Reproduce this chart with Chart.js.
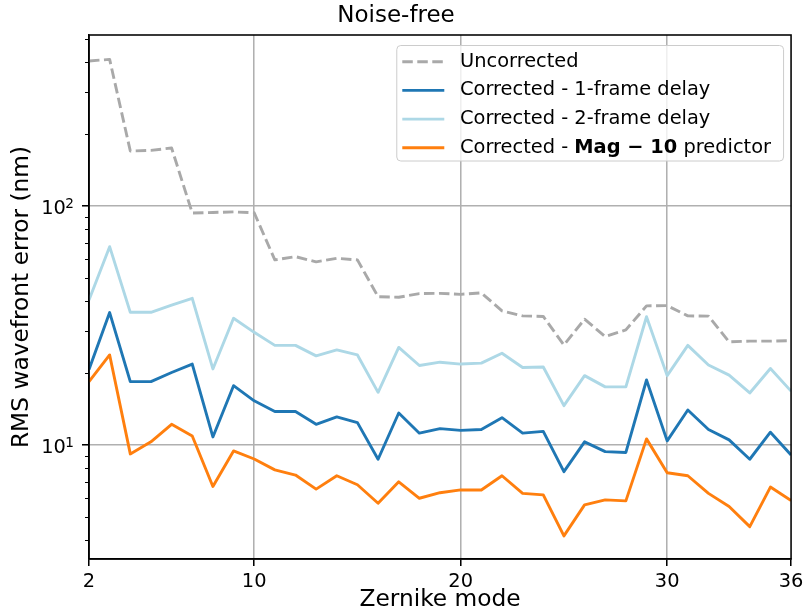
<!DOCTYPE html>
<html>
<head>
<meta charset="utf-8">
<title>Noise-free</title>
<script src="https://cdn.jsdelivr.net/npm/chart.js@4/dist/chart.umd.min.js"></script>
<style>
  html, body { margin: 0; padding: 0; background: #fff; }
  #wrap { width: 808px; height: 612px; }
</style>
</head>
<body>
<div id="wrap"><canvas id="rms-chart" width="808" height="612"></canvas></div>
<script>
// Zernike modes on the x axis
const modes = [2, 3, 4, 5, 6, 7, 8, 9, 10, 11, 12, 13, 14, 15, 16, 17, 18, 19,
  20, 21, 22, 23, 24, 25, 26, 27, 28, 29, 30, 31, 32, 33, 34, 35, 36];

// RMS wavefront error per mode (nm)
const uncorrected = [405, 411, 170, 171, 175, 93.5, 94, 94.5, 93.7, 59.5, 61.4, 58.4,
  60.4, 59.5, 41.7, 41.5, 43.0, 43.1, 42.7, 43.3, 36.4, 34.7, 34.5, 26.2, 33.6, 28.4,
  30.3, 38.2, 38.3, 34.7, 34.6, 27.0, 27.2, 27.2, 27.3];
const oneFrameDelay = [20.7, 35.8, 18.4, 18.4, 20.1, 21.8, 10.8, 17.7, 15.3, 13.8, 13.8,
  12.2, 13.1, 12.4, 8.71, 13.6, 11.2, 11.7, 11.5, 11.6, 13.0, 11.2, 11.4, 7.73, 10.3,
  9.37, 9.3, 18.7, 10.4, 14.0, 11.6, 10.5, 8.71, 11.3, 9.08];
const twoFrameDelay = [40.4, 67.6, 35.9, 35.9, 38.5, 41.1, 20.8, 33.9, 29.6, 26.1, 26.1,
  23.6, 25.0, 23.8, 16.6, 25.6, 21.5, 22.2, 21.8, 22.0, 24.2, 21.1, 21.2, 14.6, 19.5,
  17.5, 17.5, 34.4, 19.5, 26.1, 21.6, 19.6, 16.5, 20.9, 16.8];
const mag10Predictor = [18.4, 23.8, 9.17, 10.3, 12.2, 10.9, 6.70, 9.44, 8.73, 7.86, 7.48,
  6.53, 7.43, 6.81, 5.7, 7.01, 5.98, 6.31, 6.48, 6.48, 7.43, 6.27, 6.18, 4.16, 5.61,
  5.89, 5.83, 10.6, 7.65, 7.43, 6.27, 5.52, 4.55, 6.66, 5.85];

// axis ticks
const xTicks = [2, 10, 20, 30, 36];
const yMajorTicks = [10, 100];
const yMinorTicks = [4, 5, 6, 7, 8, 9, 20, 30, 40, 50, 60, 70, 80, 90, 200, 300, 400, 500];

// legend labels, **...** is drawn bold
const seriesNames = [
  'Uncorrected',
  'Corrected - 1-frame delay',
  'Corrected - 2-frame delay',
  'Corrected - **Mag \u2212 10** predictor'
];

const FONT = "'DejaVu Sans', 'Liberation Sans', sans-serif";

Chart.defaults.font.family = FONT;
Chart.defaults.color = '#000';

function series(values) {
  return modes.map((m, i) => ({ x: m, y: values[i] }));
}

// minor ticks, 10^n labels and the top/right frame
const framePlugin = {
  id: 'frame',
  afterDatasetsDraw(chart) {
    const { ctx, chartArea: a } = chart;
    const y = chart.scales.y;
    ctx.save();
    ctx.strokeStyle = '#000';
    ctx.lineWidth = 1.2;
    ctx.beginPath();
    yMinorTicks.forEach(v => {
      const py = Math.round(y.getPixelForValue(v)) + 0.5;
      ctx.moveTo(a.left - 4, py);
      ctx.lineTo(a.left, py);
    });
    ctx.stroke();
    ctx.lineWidth = 1.55;
    ctx.strokeRect(a.left, a.top, a.right - a.left, a.bottom - a.top);

    // power-of-ten labels with a raised exponent
    ctx.fillStyle = '#000';
    ctx.textBaseline = 'alphabetic';
    ctx.textAlign = 'right';
    yMajorTicks.forEach(v => {
      const py = y.getPixelForValue(v);
      const exp = String(Math.round(Math.log10(v)));
      const right = a.left - 15;
      ctx.font = '13.6px ' + FONT;
      ctx.fillText(exp, right, py + 2.2);
      const ew = ctx.measureText(exp).width;
      ctx.font = '19.4px ' + FONT;
      ctx.fillText('10', right - ew + 0.5, py + 8.3);
    });
    ctx.restore();
  }
};

// legend drawn inside the axes, upper right
const legendPlugin = {
  id: 'innerLegend',
  afterDraw(chart) {
    const { ctx, chartArea: a } = chart;
    const size = 19.4;
    const rowH = 28.7;
    const pieces = chart.data.datasets.map(ds =>
      ds.label.split('**').map((t, i) => ({ t, bold: i % 2 === 1 })));
    ctx.save();
    const fontFor = bold => (bold ? 'bold ' : '') + size + 'px ' + FONT;
    const widths = pieces.map(parts => parts.reduce((w, p) => {
      ctx.font = fontFor(p.bold);
      return w + ctx.measureText(p.t).width;
    }, 0));
    const textW = Math.max(...widths);
    const right = a.right - 8;
    const top = a.top + 10;
    const boxW = 6 + 42 + 15.7 + textW + 12;
    const boxH = 16.7 * 2 + rowH * (pieces.length - 1) - 4;
    const left = right - boxW;

    ctx.beginPath();
    ctx.roundRect(left + 0.5, top + 0.5, boxW, boxH, 4);
    ctx.fillStyle = 'rgba(255,255,255,0.8)';
    ctx.fill();
    ctx.strokeStyle = '#cccccc';
    ctx.lineWidth = 1;
    ctx.stroke();

    chart.data.datasets.forEach((ds, i) => {
      const cy = top + 16.7 + i * rowH;
      ctx.beginPath();
      ctx.setLineDash(ds.borderDash || []);
      ctx.strokeStyle = ds.borderColor;
      ctx.lineWidth = ds.borderWidth;
      ctx.moveTo(left + 6, cy);
      ctx.lineTo(left + 48, cy);
      ctx.stroke();
      ctx.setLineDash([]);
      let x = left + 63.7;
      ctx.fillStyle = '#000';
      ctx.textBaseline = 'middle';
      ctx.textAlign = 'left';
      pieces[i].forEach(p => {
        ctx.font = fontFor(p.bold);
        ctx.fillText(p.t, x, cy);
        x += ctx.measureText(p.t).width;
      });
    });
    ctx.restore();
  }
};

const ctx = document.getElementById('rms-chart').getContext('2d');
new Chart(ctx, {
  type: 'line',
  data: {
    datasets: [{
      label: seriesNames[0],
      data: series(uncorrected),
      borderColor: '#a9a9a9',
      borderWidth: 2.9,
      borderDash: [10.5, 4.5]
    }, {
      label: seriesNames[1],
      data: series(oneFrameDelay),
      borderColor: '#1f77b4',
      borderWidth: 2.9
    }, {
      label: seriesNames[2],
      data: series(twoFrameDelay),
      borderColor: '#add8e6',
      borderWidth: 2.9
    }, {
      label: seriesNames[3],
      data: series(mag10Predictor),
      borderColor: '#ff7f0e',
      borderWidth: 2.9
    }]
  },
  options: {
    responsive: false,
    animation: false,
    devicePixelRatio: 1,
    elements: {
      point: { radius: 0, hoverRadius: 0 },
      line: { tension: 0, borderJoinStyle: 'round' }
    },
    layout: { padding: { top: 0, left: 0, right: 16, bottom: 0 } },
    scales: {
      x: {
        type: 'linear',
        min: 2,
        max: 36,
        afterBuildTicks: scale => { scale.ticks = xTicks.map(v => ({ value: v })); },
        afterFit: scale => { scale.height = 53; },
        grid: {
          color: c => (c.tick && (c.tick.value === 2 || c.tick.value === 36)) ? 'rgba(0,0,0,0)' : '#b0b0b0',
          lineWidth: 1.55,
          tickColor: '#000',
          tickLength: 7,
          tickWidth: 1.55
        },
        border: { color: '#000', width: 1.55 },
        ticks: {
          font: { size: 19.4 },
          padding: 4.6,
          maxRotation: 0,
          autoSkip: false
        },
        title: {
          display: true,
          text: 'Zernike mode',
          font: { size: 23.3, lineHeight: 1 },
          padding: { top: 0, bottom: 0 }
        }
      },
      y: {
        type: 'logarithmic',
        min: 3.33,
        max: 520,
        afterBuildTicks: scale => { scale.ticks = yMajorTicks.map(v => ({ value: v, major: true })); },
        afterFit: scale => { scale.width = 89; },
        grid: {
          color: '#b0b0b0',
          lineWidth: 1.55,
          tickColor: '#000',
          tickLength: 7,
          tickWidth: 1.55
        },
        border: { color: '#000', width: 1.55 },
        ticks: { display: false },
        title: {
          display: true,
          text: 'RMS wavefront error (nm)',
          font: { size: 23.3, lineHeight: 1 },
          padding: { top: 10.5, bottom: 0 }
        }
      }
    },
    plugins: {
      legend: { display: false },
      tooltip: { enabled: false },
      title: {
        display: true,
        text: 'Noise-free',
        font: { size: 23, weight: 'normal', lineHeight: 1 },
        padding: { top: 5, bottom: 7 }
      }
    }
  },
  plugins: [framePlugin, legendPlugin]
});
</script>
</body>
</html>
